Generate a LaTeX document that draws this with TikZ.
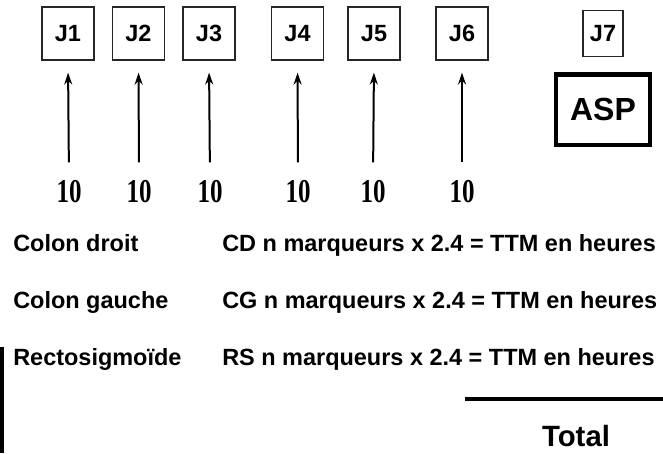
\documentclass[tikz,border=0pt]{standalone}
\usepackage{fontspec}
\setmainfont{Liberation Sans}
\newfontfamily\numfont[FakeStretch=0.75]{Liberation Serif}
\usetikzlibrary{arrows.meta}

\begin{document}
\begin{tikzpicture}[x=0.75pt, y=-0.75pt, >={Stealth[length=9pt, width=6pt]},
    jour/.style={draw=black!85, line width=0.9pt, minimum width=39pt, minimum height=39.75pt, inner sep=0pt, font=\fontsize{17.6}{20}\selectfont\bfseries},
    compte/.style={inner sep=0pt, font=\fontsize{25}{28}\numfont\bfseries},
    ligne/.style={inner sep=0pt, anchor=base west, font=\fontsize{17.6}{20}\selectfont\bfseries}]
        \useasboundingbox (0, 0) rectangle (663, 453);
        % jours
        \node[jour] (J1) at (68, 33.5) {J1};
        \node[jour] (J2) at (138.5, 33.5) {J2};
        \node[jour] (J3) at (209, 33.5) {J3};
        \node[jour] (J4) at (297.5, 33.5) {J4};
        \node[jour] (J5) at (374, 33.5) {J5};
        \node[jour] (J6) at (462, 33.5) {J6};
        \node[jour, minimum width=30pt, minimum height=35pt] (J7) at (603, 33.5) {J7};
        \node[draw, line width=3pt, minimum width=71pt, minimum height=52.5pt, inner sep=0pt, font=\fontsize{24}{28}\selectfont\bfseries] (ASP) at (603, 109.5) {ASP};
        % marqueurs
        \node[compte] (N1) at (69, 192) {10};
        \node[compte] (N2) at (139, 192) {10};
        \node[compte] (N3) at (210, 192) {10};
        \node[compte] (N4) at (298, 192) {10};
        \node[compte] (N5) at (373, 192) {10};
        \node[compte] (N6) at (462, 192) {10};
        \path[->, line width=1.5pt, shorten <=13.5pt, shorten >=9pt]
            (N1.north) edge (J1.south)
            (N2.north) edge (J2.south)
            (N3.north) edge (J3.south)
            (N4.north) edge (J4.south)
            (N5.north) edge (J5.south)
            (N6.north) edge (J6.south);
        % segments
        \node[ligne] (CDn) at (13, 251) {Colon droit};
        \node[ligne] (CGn) at (13, 308) {Colon gauche};
        \node[ligne] (RSn) at (13, 365) {Rectosigmoïde};
        \node[ligne] (CDc) at (222, 251) {CD n marqueurs x 2.4 = TTM en heures};
        \node[ligne] (CGc) at (222, 308) {CG n marqueurs x 2.4 = TTM en heures};
        \node[ligne] (RSc) at (222, 365) {RS n marqueurs x 2.4 = TTM en heures};
        \draw[line width=3.6pt] (465, 399) -- (663, 399);
        \node[inner sep=0pt, font=\fontsize{22}{25}\selectfont\bfseries] (TOT) at (576, 436) {Total};
        \draw[line width=3pt] (2, 347) -- (2, 453);
    \end{tikzpicture}
\end{document}
